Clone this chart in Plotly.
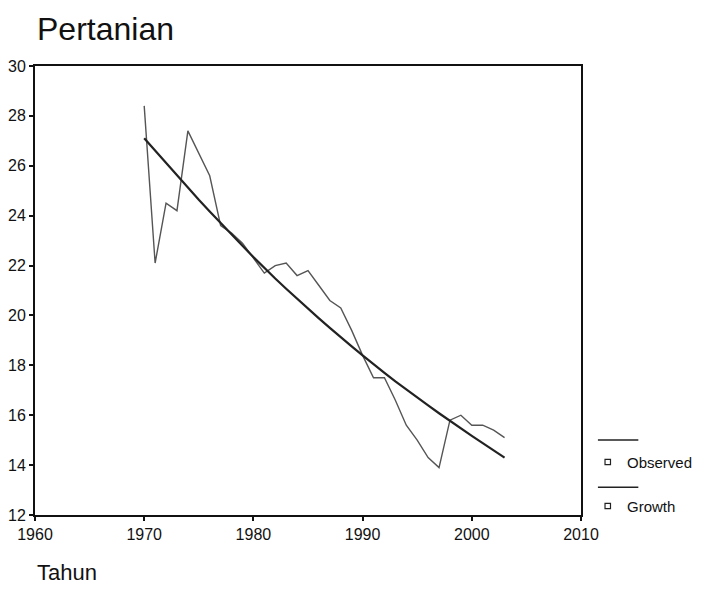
import plotly.graph_objects as go

# Agricultural share series, 1970-2003
years = list(range(1970, 2004))
observed = [28.4, 22.1, 24.5, 24.2, 27.4, 26.5, 25.6, 23.6, 23.3, 22.9,
            22.3, 21.7, 22.0, 22.1, 21.6, 21.8, 21.2, 20.6, 20.3, 19.4,
            18.4, 17.5, 17.5, 16.6, 15.6, 15.0, 14.3, 13.9, 15.8, 16.0,
            15.6, 15.6, 15.4, 15.1]
growth = [27.10, 26.60, 26.10, 25.61, 25.12, 24.64, 24.17, 23.70, 23.24, 22.79,
          22.34, 21.90, 21.48, 21.07, 20.66, 20.27, 19.88, 19.50, 19.12, 18.76,
          18.40, 18.04, 17.70, 17.36, 17.03, 16.71, 16.39, 16.08, 15.77, 15.47,
          15.17, 14.88, 14.59, 14.30]

x_ticks = [1960, 1970, 1980, 1990, 2000, 2010]
y_ticks = [12, 14, 16, 18, 20, 22, 24, 26, 28, 30]
series_names = ["Observed", "Growth"]

FONT = "Liberation Sans, Arial, sans-serif"

fig = go.Figure()
fig.add_trace(go.Scatter(x=years, y=observed, mode="lines", name=series_names[0],
                         line=dict(color="#555555", width=1.4)))
fig.add_trace(go.Scatter(x=years, y=growth, mode="lines", name=series_names[1],
                         line=dict(color="#222222", width=2.2)))

axis_common = dict(showgrid=False, zeroline=False, showline=True, linecolor="#111111",
                   linewidth=2, mirror=True, ticks="outside", ticklen=4, tickwidth=1.5,
                   tickcolor="#111111", automargin=False,
                   tickfont=dict(family=FONT, size=16, color="#111111"))

fig.update_layout(
    width=704, height=600,
    margin=dict(l=35, r=123, t=66, b=85),
    paper_bgcolor="white", plot_bgcolor="white",
    showlegend=False,
    xaxis=dict(range=[1960, 2010], tickvals=x_ticks, **axis_common),
    yaxis=dict(range=[12, 30], tickvals=y_ticks, **axis_common),
    font=dict(family=FONT, color="#111111"),
)

annotations = [
    dict(text="Pertanian", x=0, y=1.083, xref="paper", yref="paper", xanchor="left",
         yanchor="middle", showarrow=False, font=dict(size=32, family=FONT, color="#111111")),
    dict(text="Tahun", x=0, y=-0.127, xref="paper", yref="paper", xanchor="left",
         yanchor="middle", showarrow=False, font=dict(size=22, family=FONT, color="#111111")),
]

# Custom legend: short line above, small hollow square beside the label
shapes = []
legend_rows = [(0.167, 0.118), (0.062, 0.020)]
for name, (ly, ty) in zip(series_names, legend_rows):
    shapes.append(dict(type="line", xref="paper", yref="paper", x0=1.031, x1=1.105,
                       y0=ly, y1=ly, line=dict(color="#222222", width=1.5)))
    shapes.append(dict(type="rect", xref="paper", yref="paper", x0=1.044, x1=1.054,
                       y0=ty - 0.006, y1=ty + 0.006, line=dict(color="#222222", width=1.2),
                       fillcolor="white"))
    annotations.append(dict(text=name, x=1.08, y=ty, xref="paper", yref="paper",
                            xanchor="left", yanchor="middle", showarrow=False,
                            font=dict(size=15, family=FONT, color="#111111")))

fig.update_layout(annotations=annotations, shapes=shapes)
fig.write_html("out.html")
